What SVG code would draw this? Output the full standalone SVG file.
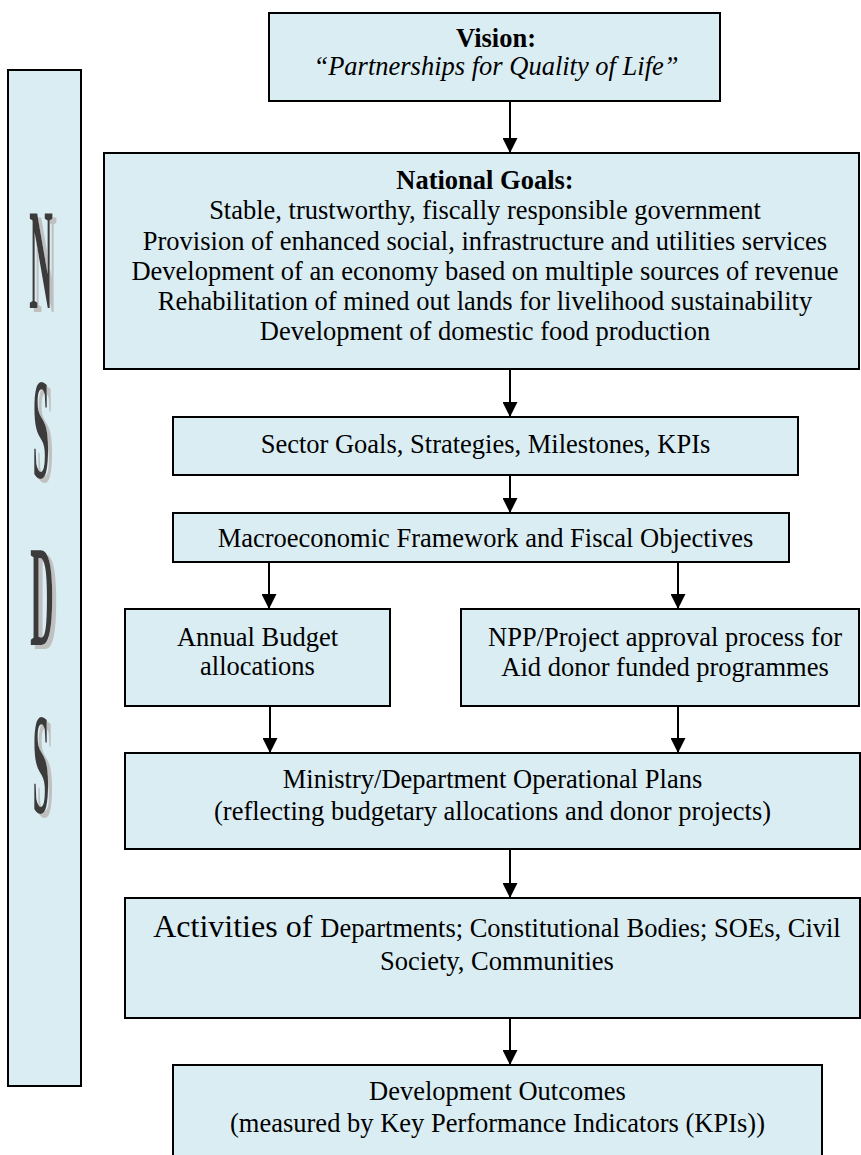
<svg xmlns="http://www.w3.org/2000/svg" width="861" height="1155" viewBox="0 0 861 1155">
<style>
.box{fill:#daedf3;stroke:#000;stroke-width:2}
.t{font-family:"Liberation Serif","Times New Roman",serif;font-size:26.5px;fill:#000;text-anchor:middle}
.b{font-weight:bold}
.i{font-style:italic}
.big{font-size:32px}
.lt{font-family:"Liberation Serif","Times New Roman",serif;font-weight:bold;font-size:48px;text-anchor:middle;fill:#3a3a3a}
.conn line{stroke:#000;stroke-width:2;marker-end:url(#ah)}
</style>
<defs>
<marker id="ah" markerUnits="userSpaceOnUse" markerWidth="15" markerHeight="15" refX="15" refY="7.5" orient="auto">
<path d="M0,0 L15,7.5 L0,15 z" fill="#000"/>
</marker>
<filter id="shadow" x="-50%" y="-20%" width="200%" height="140%">
<feOffset in="SourceAlpha" dx="4" dy="4" result="off"/>
<feFlood flood-color="#c0c0c0" result="col"/>
<feComposite in="col" in2="off" operator="in" result="sh"/>
<feMerge><feMergeNode in="sh"/><feMergeNode in="SourceGraphic"/></feMerge>
</filter>
</defs>
<rect width="861" height="1155" fill="#fff"/>

<g id="nsds">
<rect class="box" x="8" y="70" width="73" height="1016"/>
<g filter="url(#shadow)">
<g transform="translate(41,308) scale(0.68,3)"><text class="lt" x="0" y="0">N</text></g>
<g transform="translate(41,478) scale(0.62,3)"><text class="lt" x="0" y="0">S</text></g>
<g transform="translate(42,645) scale(0.68,3)"><text class="lt" x="0" y="0">D</text></g>
<g transform="translate(41,813) scale(0.62,3)"><text class="lt" x="0" y="0">S</text></g>
</g>
</g>

<g id="vision">
<rect class="box" x="269" y="13" width="451" height="88"/>
<text class="t b" x="496" y="47">Vision:</text>
<text class="t i" x="496" y="75">“Partnerships for Quality of Life”</text>
</g>

<g id="national-goals">
<rect class="box" x="104" y="153" width="755" height="216"/>
<text class="t b" x="485" y="189">National Goals:</text>
<text class="t" x="485" y="219">Stable, trustworthy, fiscally responsible government</text>
<text class="t" x="485" y="250">Provision of enhanced social, infrastructure and utilities services</text>
<text class="t" x="485" y="280">Development of an economy based on multiple sources of revenue</text>
<text class="t" x="485" y="310">Rehabilitation of mined out lands for livelihood sustainability</text>
<text class="t" x="485" y="340">Development of domestic food production</text>
</g>

<g id="sector">
<rect class="box" x="173" y="417" width="625" height="58"/>
<text class="t" x="485.5" y="453">Sector Goals, Strategies, Milestones, KPIs</text>
</g>

<g id="macro">
<rect class="box" x="173" y="513" width="616" height="49"/>
<text class="t" x="485.5" y="547">Macroeconomic Framework and Fiscal Objectives</text>
</g>

<g id="annual-budget">
<rect class="box" x="125" y="609" width="265" height="97"/>
<text class="t" x="257.5" y="646">Annual Budget</text>
<text class="t" x="257.5" y="675">allocations</text>
</g>

<g id="npp">
<rect class="box" x="461" y="609" width="398" height="97"/>
<text class="t" x="665" y="646">NPP/Project approval process for</text>
<text class="t" x="665" y="676">Aid donor funded programmes</text>
</g>

<g id="ministry">
<rect class="box" x="125" y="753" width="735" height="96"/>
<text class="t" x="492.5" y="788">Ministry/Department Operational Plans</text>
<text class="t" x="492.5" y="820">(reflecting budgetary allocations and donor projects)</text>
</g>

<g id="activities">
<rect class="box" x="125" y="898" width="735" height="120"/>
<text class="t" x="497" y="937"><tspan class="big">Activities of </tspan>Departments; Constitutional Bodies; SOEs, Civil</text>
<text class="t" x="497" y="970">Society, Communities</text>
</g>

<g id="outcomes">
<rect class="box" x="173" y="1065" width="649" height="100"/>
<text class="t" x="497.5" y="1100">Development Outcomes</text>
<text class="t" x="497.5" y="1132">(measured by Key Performance Indicators (KPIs))</text>
</g>

<g id="connectors" class="conn">
<line x1="510" y1="101" x2="510" y2="153"/>
<line x1="510" y1="369" x2="510" y2="417"/>
<line x1="510" y1="475" x2="510" y2="513"/>
<line x1="269" y1="562" x2="269" y2="609"/>
<line x1="678" y1="562" x2="678" y2="609"/>
<line x1="270" y1="706" x2="270" y2="753"/>
<line x1="678" y1="706" x2="678" y2="753"/>
<line x1="510" y1="849" x2="510" y2="898"/>
<line x1="510" y1="1018" x2="510" y2="1065"/>
</g>
</svg>
